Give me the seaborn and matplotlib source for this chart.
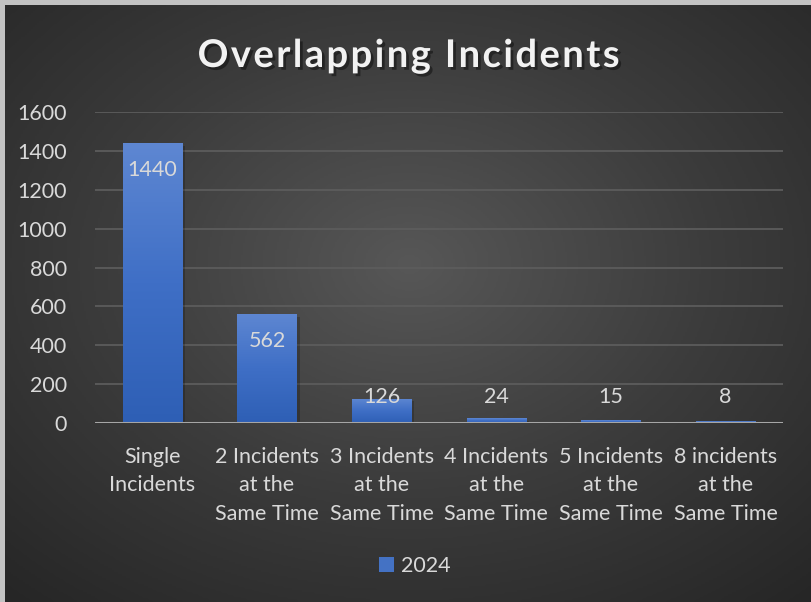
import numpy as np
import pandas as pd
import matplotlib
matplotlib.use("Agg")
import matplotlib.pyplot as plt
import matplotlib.patheffects as pe
from matplotlib.colors import LinearSegmentedColormap
from matplotlib.patches import Patch
import seaborn as sns

categories = ["Single\nIncidents", "2 Incidents\nat the\nSame Time", "3 Incidents\nat the\nSame Time",
              "4 Incidents\nat the\nSame Time", "5 Incidents\nat the\nSame Time", "8 incidents\nat the\nSame Time"]
values = [1440, 562, 126, 24, 15, 8]
series_name = "2024"
yticks = [0, 200, 400, 600, 800, 1000, 1200, 1400, 1600]
title = "Overlapping Incidents"

sns.set_theme(style="dark")
plt.rcParams["font.family"] = ["Lato", "DejaVu Sans"]
TXT = "#d9d9d9"

W, H = 812, 602
fig = plt.figure(figsize=(W / 100, H / 100), dpi=100, facecolor="#c3c3c3")

# background panel with radial gradient
bg = fig.add_axes([5 / W, 0, (W - 5) / W, (H - 5) / H])
bg.set_axis_off()
yy, xx = np.mgrid[0:300, 0:400]
cx, cy = 200, 130
r = np.sqrt(((xx - cx) / 400) ** 2 + ((yy - cy) / 300) ** 2)
r = np.clip(r / 0.75, 0, 1)
bgcmap = LinearSegmentedColormap.from_list("bg", ["#575757", "#3c3c3c", "#262626"])
bg.imshow(r, cmap=bgcmap, aspect="auto", extent=(0, 1, 0, 1), origin="upper", vmin=0, vmax=1)
bg.set_xlim(0, 1)
bg.set_ylim(0, 1)

ax = fig.add_axes([95 / W, 179 / H, (783 - 95) / W, (423 - 112) / H])
ax.patch.set_alpha(0)
df = pd.DataFrame({"cat": categories, "val": values, "series": series_name})
sns.barplot(data=df, x="cat", y="val", color="#4472c4", width=0.52, ax=ax, zorder=3,
            linewidth=0, edgecolor="none")
ax.set_ylim(0, 1600)
ax.set_xlim(-0.5, len(categories) - 0.5)
ax.set_yticks(yticks)
ax.set_yticklabels([str(t) for t in yticks], color=TXT, fontsize=15.5)
ax.set_xticks(range(len(categories)))
ax.set_xticklabels(categories, color=TXT, fontsize=15.5, linespacing=1.55, va="top")
ax.tick_params(axis="y", length=0, pad=20)
ax.tick_params(axis="x", length=0, pad=17)
ax.set_xlabel("")
ax.set_ylabel("")
for s in ax.spines.values():
    s.set_visible(False)
ax.grid(False)
for t in yticks[1:]:
    ax.axhline(t, color="#5c5c5c", lw=1.3, zorder=1)
ax.axhline(0, color="#a6a6a6", lw=2.2, zorder=5)

# gradient fill for bars
grad = np.linspace(0, 1, 256).reshape(-1, 1)
barcmap = LinearSegmentedColormap.from_list("bar", ["#5e87d2", "#3f6fc6", "#2e5fb5"])
for p in ax.patches:
    x0, y0 = p.get_x(), p.get_y()
    w, h = p.get_width(), p.get_height()
    p.set_path_effects([pe.SimplePatchShadow(offset=(2, -2), alpha=0.2, shadow_rgbFace="black"), pe.Normal()])
    im = ax.imshow(grad, cmap=barcmap, aspect="auto", extent=(x0, x0 + w, y0, y0 + h),
                   origin="upper", zorder=4)
    im.set_clip_path(p)

# data labels: inside end, clamped above the baseline for short bars
px_per_unit = (423 - 112) / 1600
for i, v in enumerate(values):
    top_px = v * px_per_unit
    center_px = max(top_px - 27, 26)
    ax.annotate(str(v), (i, 0), xytext=(0, center_px), textcoords="offset pixels",
                ha="center", va="center", color=TXT, fontsize=15.5, zorder=6)

ax.set_xlim(-0.5, len(categories) - 0.5)

# legend
handles = [Patch(facecolor="#4472c4", edgecolor="none", label=series_name)]
fig.legend(handles=handles, loc="center", bbox_to_anchor=(415 / W, 1 - 566 / H), frameon=False,
           fontsize=15.5, labelcolor=TXT, handlelength=0.7, handleheight=0.7, handletextpad=0.3)

spaced = "\u200a".join(title)
fig.text(409 / W, 1 - 56 / H, spaced, ha="center", va="center", color="#f2f2f2",
         fontsize=27.5, fontweight="bold",
         path_effects=[pe.withSimplePatchShadow(offset=(2, -2), alpha=0.4, shadow_rgbFace="black")])

fig.savefig("out.png", dpi=100, facecolor=fig.get_facecolor())
